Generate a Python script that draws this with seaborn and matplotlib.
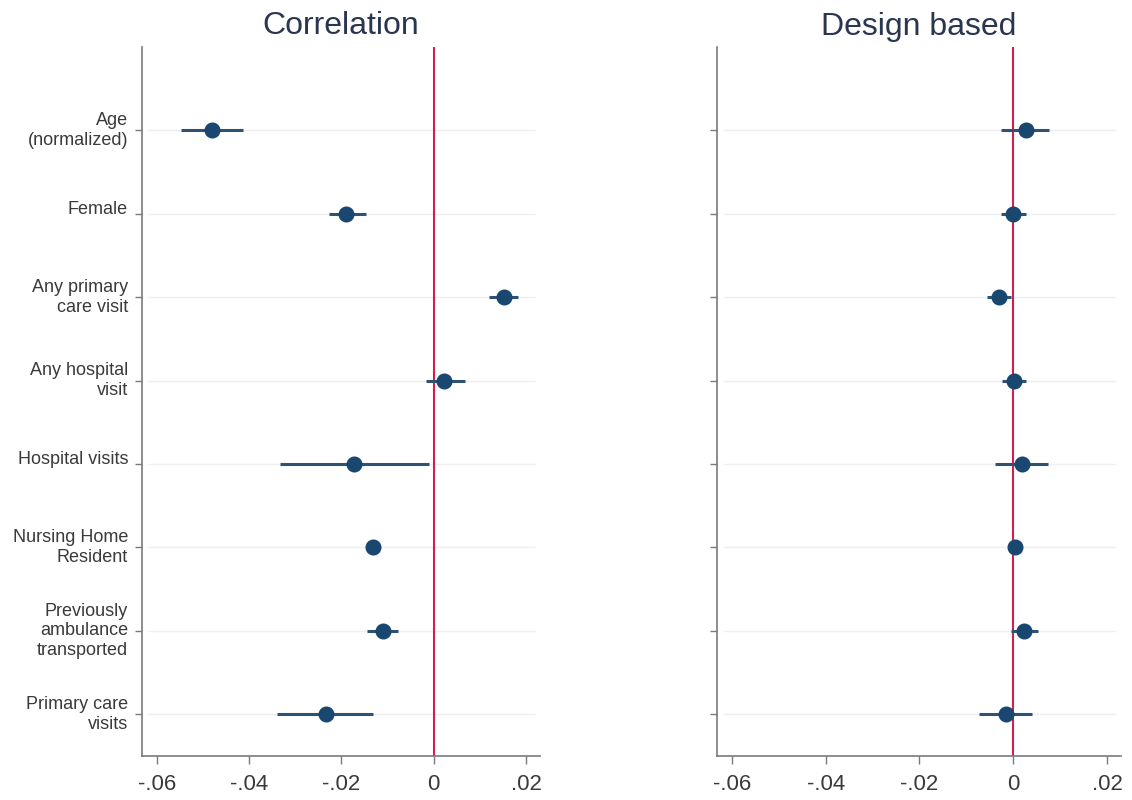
import numpy as np
import pandas as pd
import matplotlib
matplotlib.use("Agg")
import matplotlib.pyplot as plt
import seaborn as sns

# ---- data ----
labels = ["Age\n(normalized)", "Female", "Any primary\ncare visit", "Any hospital\nvisit",
          "Hospital visits", "Nursing Home\nResident", "Previously\nambulance\ntransported",
          "Primary care\nvisits"]
corr_coef = [-0.0481, -0.0190, 0.0151, 0.0023, -0.0172, -0.0131, -0.0110, -0.0234]
corr_lo = [-0.0548, -0.0226, 0.0120, -0.0017, -0.0333, -0.0139, -0.0145, -0.0339]
corr_hi = [-0.0413, -0.0146, 0.0182, 0.0067, -0.0011, -0.0123, -0.0077, -0.0131]
design_coef = [0.0027, 0.0000, -0.0030, 0.0002, 0.0018, 0.0004, 0.0023, -0.0016]
design_lo = [-0.0025, -0.0025, -0.0056, -0.0023, -0.0038, -0.0002, -0.0005, -0.0072]
design_hi = [0.0076, 0.0028, -0.0005, 0.0028, 0.0075, 0.0010, 0.0052, 0.0041]
panel_titles = ["Correlation", "Design based"]
xticks = [-0.06, -0.04, -0.02, 0, 0.02]
xticklabels = ["-.06", "-.04", "-.02", "0", ".02"]

sns.set_style("white")
plt.rcParams["font.family"] = ["Liberation Sans", "DejaVu Sans"]

NAVY = "#1a476f"
CI_COL = "#2e5272"
RED = "#d11f4f"
SPINE = "#7a7a7a"
TXT = "#3a3a3a"
TITLE = "#2a3550"

fig = plt.figure(figsize=(11.32, 8), dpi=100)
W, H = 1132, 800
bottom = 1 - 756 / H
height = (756 - 47) / H
ax_l = fig.add_axes([142 / W, bottom, 398 / W, height])
ax_r = fig.add_axes([717 / W, bottom, 404 / W, height])

panels = [
    (ax_l, panel_titles[0], corr_coef, corr_lo, corr_hi, True),
    (ax_r, panel_titles[1], design_coef, design_lo, design_hi, False),
]

xlim = (-0.0632, 0.0230)

for ax, title, coef, lo, hi, show_labels in panels:
    df = pd.DataFrame({"label": labels, "coef": coef, "lo": lo, "hi": hi})
    pos = np.arange(len(df))
    # faint horizontal guide lines
    ax.hlines(pos, xlim[0] + 0.0012, xlim[1] - 0.0010, color="#efefef", lw=1.0, zorder=0)
    ax.axvline(0, color=RED, lw=1.5, zorder=1)
    ax.hlines(pos, df["lo"], df["hi"], color=CI_COL, lw=2.2, zorder=2)
    sns.pointplot(data=df, x="coef", y="label", order=labels, orient="h",
                  linestyle="none", errorbar=None, color=NAVY, markers="o",
                  markersize=9.5, ax=ax, zorder=3)
    ax.set_xlim(*xlim)
    ax.set_ylim(len(labels) - 0.5, -1.0)
    ax.set_xticks(xticks)
    ax.set_xticklabels(xticklabels)
    ax.set_yticks(pos)
    if show_labels:
        ax.set_yticklabels(labels, fontsize=13, color=TXT, linespacing=1.2)
        for t in ax.get_yticklabels():
            if "\n" in t.get_text():
                t.set_va("center")
            else:
                t.set_va("baseline")
    else:
        ax.set_yticklabels([""] * len(labels))
    ax.set_xlabel("")
    ax.set_ylabel("")
    ax.tick_params(axis="y", left=True, length=5, width=1, color=SPINE, pad=5, labelcolor=TXT)
    ax.tick_params(axis="x", bottom=True, length=6, width=1, color=SPINE, pad=7,
                   labelsize=16, labelcolor=TXT)
    for s in ["top", "right"]:
        ax.spines[s].set_visible(False)
    for s in ["left", "bottom"]:
        ax.spines[s].set_color(SPINE)
        ax.spines[s].set_linewidth(1.2)
    ax.set_title(title, fontsize=23, color=TITLE, pad=9)
    ax.grid(False)

fig.savefig("out.png", dpi=100, facecolor="white")
